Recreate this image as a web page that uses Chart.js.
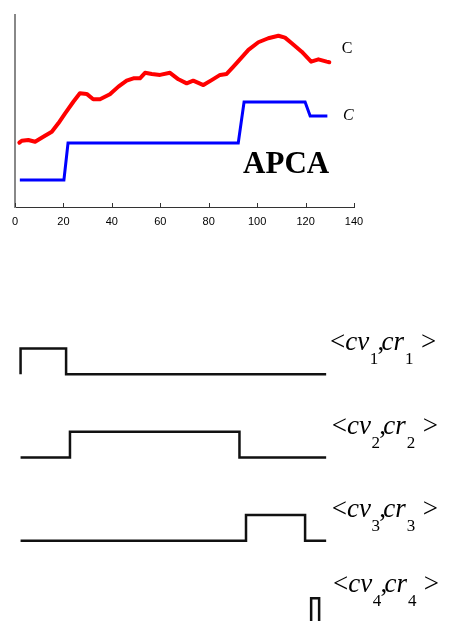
<!DOCTYPE html>
<html>
<head>
<meta charset="utf-8">
<script src="https://cdn.jsdelivr.net/npm/chart.js@4.4.1/dist/chart.umd.min.js"></script>
<style>
  html, body { margin: 0; padding: 0; background: #fff; overflow: hidden; }
  #chart-apca   { position: absolute; left: 0; top: 0; }
  #chart-pulsos { position: absolute; left: 0; top: 330px; }
</style>
</head>
<body>
<canvas id="chart-apca" width="452" height="240"></canvas>
<canvas id="chart-pulsos" width="452" height="300"></canvas>
<script>
// ------------------------------------------------------------
// Série original + aproximação APCA + pulsos de cada segmento
// ------------------------------------------------------------

const X_TICKS = [0, 20, 40, 60, 80, 100, 120, 140];

// série original (vermelho)
const serieT = [1.8, 2.8, 5.5, 8.3, 11.7, 15.2, 17.9, 20.7, 24.1, 26.8, 29.6, 32.3, 35.1,
  39.2, 42.7, 46.1, 48.9, 51.6, 53.7, 56.5, 59.9, 64.0, 67.5, 70.9, 73.6, 77.8, 81.2,
  84.7, 87.4, 90.2, 92.9, 96.4, 100.5, 104.6, 108.8, 111.5, 114.3, 118.4, 122.3, 125.3,
  128.7, 129.8];
const serieV = [33.5, 34.5, 34.9, 34.0, 36.6, 39.2, 43.6, 48.8, 54.8, 59.2, 58.9, 56.1, 56.1,
  58.7, 62.7, 65.8, 67.0, 67.0, 69.9, 69.3, 68.8, 69.9, 66.5, 64.4, 65.8, 63.5, 66.1,
  68.8, 69.3, 73.1, 76.9, 81.8, 85.8, 87.9, 89.2, 88.2, 85.3, 80.9, 75.7, 76.9,
  75.7, 75.4];

// aproximação APCA (azul)
const apcaT = [2.0, 20.2, 21.9, 92.2, 94.6, 119.8, 121.9, 129.0];
const apcaV = [14.1, 14.1, 33.3, 33.3, 54.7, 54.7, 47.4, 47.4];

// pulsos <cv_i, cr_i>
const pulsoIni   = [2.3, 22.7, 95.4, 122.3];
const pulsoFim   = [21.1, 92.7, 119.8, 125.6];
const pulsoBase  = [3, 2, 1, 0];
const pulsoAlt   = 0.31;
const pulsoNomes = ['1', '2', '3', '4'];
const T_INI = 2.3, T_FIM = 128.5;

const SERIF = '"Liberation Serif", "Times New Roman", serif';

const pontos = (ts, vs) => ts.map((t, i) => ({ x: t, y: vs[i] }));

function montaPulso(i) {
  const b = pulsoBase[i], t = b + pulsoAlt;
  return [
    { x: T_INI, y: b }, { x: pulsoIni[i], y: b }, { x: pulsoIni[i], y: t },
    { x: pulsoFim[i], y: t }, { x: pulsoFim[i], y: b }, { x: T_FIM, y: b }
  ];
}

// rótulos do gráfico de cima + ticks para dentro
const extrasTopo = {
  id: 'extrasTopo',
  afterDatasetsDraw(chart) {
    const { ctx, scales: { x, y } } = chart;
    ctx.save();
    ctx.fillStyle = '#000';
    ctx.textBaseline = 'alphabetic';
    ctx.font = '16px ' + SERIF;
    ctx.fillText('C', x.getPixelForValue(134.9), y.getPixelForValue(80.4));
    ctx.font = 'italic 16px ' + SERIF;
    ctx.fillText('C', x.getPixelForValue(135.5), y.getPixelForValue(45.3));
    ctx.font = 'bold 31px ' + SERIF;
    ctx.fillText('APCA', x.getPixelForValue(94.2), y.getPixelForValue(17.7));

    ctx.strokeStyle = '#333';
    ctx.lineWidth = 1;
    X_TICKS.forEach(v => {
      const px = Math.round(x.getPixelForValue(v)) + 0.5;
      ctx.beginPath();
      ctx.moveTo(px, y.bottom);
      ctx.lineTo(px, y.bottom - 4);
      ctx.stroke();
    });
    ctx.restore();
  }
};

// <cv_n,cr_n> com subscrito
const rotuloX = [130.1, 130.8, 130.8, 131.3];
const rotuloY = [3.292, 2.283, 1.286, 0.384];

function desenhaRotulo(ctx, n, px, py) {
  const normal = '27px ' + SERIF;
  const italico = 'italic 27px ' + SERIF;
  const sub = '17px ' + SERIF;
  // [texto, fonte, ajuste horizontal, deslocamento vertical]
  const partes = [
    ['<', normal, 0, 0],
    ['cv', italico, 0, 0],
    [n, sub, 0.5, 14],
    [',', normal, -0.7, 0],
    ['cr', italico, -2.7, 0],
    [n, sub, 1, 14],
    ['>', normal, 7.4, 0]
  ];
  let cx = px;
  partes.forEach(([txt, font, kern, dy]) => {
    cx += kern;
    ctx.font = font;
    ctx.fillText(txt, cx, py + dy);
    cx += ctx.measureText(txt).width;
  });
}

const rotulosPulsos = {
  id: 'rotulosPulsos',
  afterDatasetsDraw(chart) {
    const { ctx, scales: { x, y } } = chart;
    ctx.save();
    ctx.fillStyle = '#000';
    ctx.textBaseline = 'alphabetic';
    pulsoNomes.forEach((n, i) => {
      desenhaRotulo(ctx, n, x.getPixelForValue(rotuloX[i]), y.getPixelForValue(rotuloY[i]));
    });
    ctx.restore();
  }
};

new Chart(document.getElementById('chart-apca'), {
  type: 'line',
  data: {
    datasets: [
      {
        data: pontos(serieT, serieV),
        borderColor: '#ff0000',
        borderWidth: 4,
        pointRadius: 0,
        tension: 0,
        borderJoinStyle: 'round',
        borderCapStyle: 'round'
      },
      {
        data: pontos(apcaT, apcaV),
        borderColor: '#0000ff',
        borderWidth: 3,
        pointRadius: 0,
        tension: 0
      }
    ]
  },
  options: {
    responsive: false,
    animation: false,
    layout: { padding: { left: 15, right: 98, top: 15, bottom: 0 } },
    plugins: { legend: { display: false }, tooltip: { enabled: false } },
    scales: {
      x: {
        type: 'linear',
        min: 0,
        max: 140,
        grid: { display: false, drawTicks: false },
        border: { color: '#333', width: 1 },
        ticks: {
          stepSize: 20,
          autoSkip: false,
          maxRotation: 0,
          padding: 8,
          color: '#000',
          font: { family: '"Liberation Sans", Arial, sans-serif', size: 11 }
        },
        afterFit: s => { s.height = 33; s.paddingLeft = 0; s.paddingRight = 0; }
      },
      y: {
        type: 'linear',
        min: 0,
        max: 100,
        grid: { display: false, drawTicks: false },
        border: { color: '#888', width: 2 },
        ticks: { display: false },
        afterFit: s => { s.width = 0; }
      }
    }
  },
  plugins: [extrasTopo]
});

new Chart(document.getElementById('chart-pulsos'), {
  type: 'line',
  data: {
    datasets: pulsoNomes.map((_, i) => ({
      data: montaPulso(i),
      borderColor: '#111',
      borderWidth: 2.5,
      pointRadius: 0,
      tension: 0,
      clip: false
    }))
  },
  options: {
    responsive: false,
    animation: false,
    layout: { padding: { left: 15, right: 98, top: 18.5, bottom: 6 } },
    plugins: { legend: { display: false }, tooltip: { enabled: false } },
    scales: {
      x: { type: 'linear', min: 0, max: 140, display: false },
      y: { type: 'linear', min: 0, max: 3 + pulsoAlt, display: false }
    }
  },
  plugins: [rotulosPulsos]
});
</script>
</body>
</html>
